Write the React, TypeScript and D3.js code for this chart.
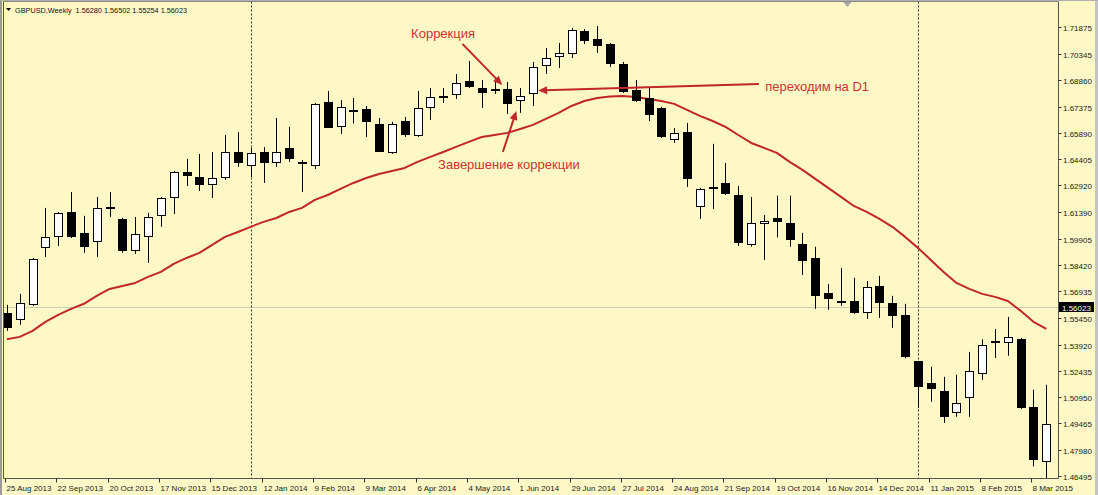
import React from 'react';
import * as d3 from 'd3';

const W = 1098;
const H = 495;

// Weekly GBPUSD bars (25 Aug 2013 .. 15 Mar 2015)
const opens = [
  1.5572, 1.5532, 1.5617, 1.5939, 1.6001, 1.6142, 1.6024, 1.5973, 1.6171, 1.6103,
  1.5922, 1.6001, 1.6120, 1.6221, 1.6368, 1.6340, 1.6295, 1.6334, 1.6481, 1.6402,
  1.6481, 1.6419, 1.6504, 1.6425, 1.6402, 1.6764, 1.6623, 1.6713, 1.6724, 1.6642,
  1.6475, 1.6657, 1.6572, 1.6730, 1.6795, 1.6803, 1.6883, 1.6843, 1.6826, 1.6838,
  1.6770, 1.6809, 1.6967, 1.7018, 1.7035, 1.7165, 1.7120, 1.7092, 1.6979, 1.6832,
  1.6786, 1.6730, 1.6549, 1.6594, 1.6171, 1.6278, 1.6306, 1.6238, 1.5956, 1.6075,
  1.6109, 1.6080, 1.5961, 1.5883, 1.5685, 1.5640, 1.5640, 1.5572, 1.5724, 1.5628,
  1.5560, 1.5300, 1.5176, 1.5131, 1.5007, 1.5091, 1.5227, 1.5410, 1.5399, 1.5425,
  1.5041, 1.4730,
];
const highs = [
  1.5617, 1.5679, 1.5882, 1.6165, 1.6142, 1.6255, 1.6120, 1.6227, 1.6255, 1.6109,
  1.6114, 1.6137, 1.6227, 1.6374, 1.6442, 1.6470, 1.6481, 1.6577, 1.6594, 1.6504,
  1.6509, 1.6673, 1.6623, 1.6436, 1.6758, 1.6826, 1.6775, 1.6786, 1.6741, 1.6673,
  1.6651, 1.6679, 1.6826, 1.6843, 1.6843, 1.6922, 1.6996, 1.6888, 1.6899, 1.6877,
  1.6843, 1.6990, 1.7069, 1.7097, 1.7182, 1.7176, 1.7193, 1.7097, 1.6990, 1.6888,
  1.6843, 1.6736, 1.6617, 1.6645, 1.6278, 1.6527, 1.6419, 1.6289, 1.6227, 1.6125,
  1.6234, 1.6234, 1.6024, 1.5945, 1.5735, 1.5826, 1.5770, 1.5752, 1.5781, 1.5668,
  1.5623, 1.5300, 1.5267, 1.5210, 1.5222, 1.5351, 1.5422, 1.5481, 1.5549, 1.5430,
  1.5137, 1.5165,
];
const lows = [
  1.5470, 1.5504, 1.5611, 1.5888, 1.5950, 1.5995, 1.5911, 1.5888, 1.6114, 1.5911,
  1.5905, 1.5854, 1.6058, 1.6131, 1.6289, 1.6261, 1.6221, 1.6323, 1.6397, 1.6340,
  1.6306, 1.6397, 1.6425, 1.6255, 1.6385, 1.6617, 1.6583, 1.6642, 1.6566, 1.6481,
  1.6470, 1.6566, 1.6566, 1.6662, 1.6758, 1.6781, 1.6843, 1.6730, 1.6809, 1.6696,
  1.6702, 1.6741, 1.6922, 1.6956, 1.7012, 1.7092, 1.7041, 1.6962, 1.6815, 1.6764,
  1.6656, 1.6560, 1.6532, 1.6284, 1.6103, 1.6159, 1.6238, 1.5950, 1.5945, 1.5871,
  1.5998, 1.5945, 1.5786, 1.5594, 1.5589, 1.5611, 1.5566, 1.5538, 1.5543, 1.5487,
  1.5315, 1.5035, 1.5069, 1.4950, 1.4984, 1.4984, 1.5193, 1.5317, 1.5329, 1.5029,
  1.4704, 1.4633,
];
const closes = [
  1.5487, 1.5628, 1.5877, 1.6001, 1.6137, 1.6001, 1.5945, 1.6165, 1.6165, 1.5922,
  1.6018, 1.6114, 1.6221, 1.6368, 1.6346, 1.6295, 1.6334, 1.6481, 1.6419, 1.6475,
  1.6419, 1.6481, 1.6442, 1.6414, 1.6753, 1.6617, 1.6736, 1.6716, 1.6648, 1.6481,
  1.6642, 1.6577, 1.6730, 1.6792, 1.6798, 1.6871, 1.6849, 1.6815, 1.6838, 1.6753,
  1.6798, 1.6962, 1.7012, 1.7041, 1.7171, 1.7109, 1.7080, 1.6979, 1.6820, 1.6770,
  1.6690, 1.6566, 1.6589, 1.6329, 1.6272, 1.6284, 1.6244, 1.5967, 1.6080, 1.6092,
  1.6086, 1.5984, 1.5865, 1.5668, 1.5651, 1.5628, 1.5572, 1.5719, 1.5625, 1.5555,
  1.5323, 1.5154, 1.5142, 1.4984, 1.5063, 1.5244, 1.5391, 1.5399, 1.5436, 1.5035,
  1.4741, 1.4945,
];
// Moving average (red line)
const maValues = [
  1.5422, 1.5436, 1.5470, 1.5521, 1.5560, 1.5594, 1.5623, 1.5668, 1.5707, 1.5724,
  1.5741, 1.5775, 1.5803, 1.5849, 1.5882, 1.5911, 1.5956, 1.6001, 1.6029, 1.6058,
  1.6086, 1.6108, 1.6142, 1.6165, 1.6210, 1.6238, 1.6272, 1.6306, 1.6334, 1.6357,
  1.6374, 1.6391, 1.6425, 1.6453, 1.6481, 1.6510, 1.6538, 1.6566, 1.6577, 1.6589,
  1.6611, 1.6634, 1.6668, 1.6702, 1.6741, 1.6769, 1.6786, 1.6795, 1.6798, 1.6792,
  1.6781, 1.6769, 1.6753, 1.6719, 1.6685, 1.6656, 1.6623, 1.6577, 1.6532, 1.6504,
  1.6476, 1.6425, 1.6380, 1.6329, 1.6278, 1.6227, 1.6176, 1.6142, 1.6103, 1.6058,
  1.6001, 1.5939, 1.5871, 1.5803, 1.5741, 1.5707, 1.5679, 1.5662, 1.5639, 1.5583,
  1.5521, 1.5481,
];

const xTickLabels = [
  '25 Aug 2013', '22 Sep 2013', '20 Oct 2013', '17 Nov 2013', '15 Dec 2013',
  '12 Jan 2014', '9 Feb 2014', '9 Mar 2014', '6 Apr 2014', '4 May 2014',
  '1 Jun 2014', '29 Jun 2014', '27 Jul 2014', '24 Aug 2014', '21 Sep 2014',
  '19 Oct 2014', '16 Nov 2014', '14 Dec 2014', '11 Jan 2015', '8 Feb 2015',
  '8 Mar 2015',
];
const xTickEvery = 4;
const yTickValues = [
  1.71875, 1.70345, 1.6886, 1.67375, 1.6589, 1.64405, 1.6292, 1.6139, 1.59905,
  1.5842, 1.56935, 1.5545, 1.5392, 1.52435, 1.5095, 1.49465, 1.4798, 1.46495,
];
const yearSeparatorBars = [19, 71];
const currentPrice = 1.56023;
const headerText = 'GBPUSD,Weekly  1.56280 1.56502 1.55254 1.56023';
const shiftMarkerBar = 65.5;

// annotations anchored in data space: [barIndex, price]
const annotations = [
  { text: 'Коррекция', textAt: [31.5, 1.7125], from: [35.5, 1.7092], to: [38.6, 1.6860] },
  { text: 'Завершение коррекции', textAt: [33.6, 1.6385], from: [38.65, 1.6481], to: [39.7, 1.6713] },
  { text: 'переходим на D1', textAt: [59.1, 1.6826], from: [58.6, 1.6866], to: [41.4, 1.6829] },
];

const BG = '#fdf8c6';
const RED = '#c0262b';
const TXT_RED = '#cc3333';
const FONT = "'Liberation Sans', Arial, sans-serif";

const plot = { left: 3.5, right: 1058.5, top: 1.5, bottom: 478.5 };

export default function App() {
  const n = opens.length;
  const x = d3.scaleLinear().domain([0, n - 1]).range([6.9, 1046.3]);
  const y = d3.scaleLinear().domain([1.46495, 1.71875]).range([476, 27]);

  const maLine = d3
    .line<number>()
    .x((_, i) => x(i))
    .y((d) => y(d))(maValues) || '';

  const arrowHead = (fx: number, fy: number, tx: number, ty: number) => {
    const ang = Math.atan2(ty - fy, tx - fx);
    const len = 9;
    const hw = 4;
    const bx = tx - len * Math.cos(ang);
    const by = ty - len * Math.sin(ang);
    const px = -Math.sin(ang);
    const py = Math.cos(ang);
    return `M${tx},${ty}L${bx + px * hw},${by + py * hw}L${bx - px * hw},${by - py * hw}Z`;
  };

  const cy = Math.round(y(currentPrice)) + 0.5;
  const shiftX = x(shiftMarkerBar);

  return (
    <div style={{ position: 'absolute', left: 0, top: 0 }}>
      <svg width={W} height={H} style={{ display: 'block' }} fontFamily={FONT}>
        <rect x={0} y={0} width={W} height={H} fill={BG} />
        {/* window edges */}
        <rect x={0} y={0} width={2} height={H} fill="#9a9a9a" />
        <rect x={1095} y={0} width={3} height={H} fill="#c4c4c4" />
        <line x1={0} x2={W} y1={0.5} y2={0.5} stroke="#b0b0b0" />

        {/* current price line */}
        <line x1={plot.left} x2={plot.right} y1={cy} y2={cy} stroke="#cdcdb6" strokeWidth={1} />

        {/* year separators */}
        {yearSeparatorBars.map((b) => {
          const xx = Math.round(x(b)) + 0.5;
          return (
            <line key={b} x1={xx} x2={xx} y1={plot.top} y2={plot.bottom} stroke="#333" strokeWidth={1} strokeDasharray="2,2" />
          );
        })}

        {/* moving average */}
        <path d={maLine} fill="none" stroke={RED} strokeWidth={2} strokeLinejoin="round" />

        {/* candles */}
        {opens.map((o, i) => {
          const c = closes[i];
          const cx = Math.round(x(i));
          const top = Math.round(y(Math.max(o, c)));
          const bot = Math.round(y(Math.min(o, c)));
          const h = Math.max(bot - top, 2);
          const bull = c >= o;
          return (
            <g key={i}>
              <line x1={cx + 0.5} x2={cx + 0.5} y1={y(highs[i])} y2={y(lows[i])} stroke="#000" strokeWidth={1} />
              {bull ? (
                <rect x={cx - 3.5} y={top + 0.5} width={8} height={h - 1 < 1 ? 1 : h - 1} fill="#fff" stroke="#000" strokeWidth={1} />
              ) : (
                <rect x={cx - 4} y={top} width={9} height={h} fill="#000" />
              )}
            </g>
          );
        })}

        {/* annotations */}
        {annotations.map((a, k) => {
          const fx = x(a.from[0]);
          const fy = y(a.from[1]);
          const tx = x(a.to[0]);
          const ty = y(a.to[1]);
          const ang = Math.atan2(ty - fy, tx - fx);
          const ex = tx - 7 * Math.cos(ang);
          const ey = ty - 7 * Math.sin(ang);
          return (
            <g key={k}>
              <line x1={fx} y1={fy} x2={ex} y2={ey} stroke={RED} strokeWidth={2} />
              <path d={arrowHead(fx, fy, tx, ty)} fill={RED} />
              <text x={x(a.textAt[0])} y={y(a.textAt[1])} fontSize={13} fill={TXT_RED}>
                {a.text}
              </text>
            </g>
          );
        })}

        {/* plot border */}
        <line x1={plot.left} x2={plot.left} y1={plot.top} y2={plot.bottom} stroke="#555" />
        <line x1={plot.right} x2={plot.right} y1={plot.top} y2={plot.bottom} stroke="#555" />
        <line x1={plot.left} x2={plot.right} y1={plot.bottom} y2={plot.bottom} stroke="#555" />
        <line x1={plot.left} x2={plot.right} y1={plot.top} y2={plot.top} stroke="#888" />

        {/* chart shift marker */}
        <path d={`M${shiftX - 4},2L${shiftX + 4},2L${shiftX},7Z`} fill="#a8a8a8" />

        {/* header */}
        <path d="M6,8L11,8L8.5,11Z" fill="#000" />
        <text x={15} y={13} fontSize={8} fill="#111" textLength={172} lengthAdjust="spacingAndGlyphs" xmlSpace="preserve">
          {headerText}
        </text>

        {/* y axis */}
        {yTickValues.map((v) => {
          const yy = Math.round(y(v)) + 0.5;
          return (
            <g key={v}>
              <line x1={plot.right} x2={plot.right + 3} y1={yy} y2={yy} stroke="#333" />
              <text x={1063} y={yy + 3} fontSize={8} fill="#222">
                {v.toFixed(5)}
              </text>
            </g>
          );
        })}

        {/* current price tag */}
        <rect x={1059} y={cy - 5.5} width={35} height={10} fill="#000" />
        <text x={1062} y={cy + 3} fontSize={8} fill="#fff">
          {currentPrice.toFixed(5)}
        </text>

        {/* x axis */}
        {xTickLabels.map((lab, k) => {
          const xx = Math.round(x(k * xTickEvery)) - 1.5;
          return (
            <g key={lab}>
              <line x1={xx} x2={xx} y1={plot.bottom} y2={plot.bottom + 4} stroke="#333" />
              <text x={xx + 1} y={491} fontSize={8} fill="#222">
                {lab}
              </text>
            </g>
          );
        })}
      </svg>
    </div>
  );
}
